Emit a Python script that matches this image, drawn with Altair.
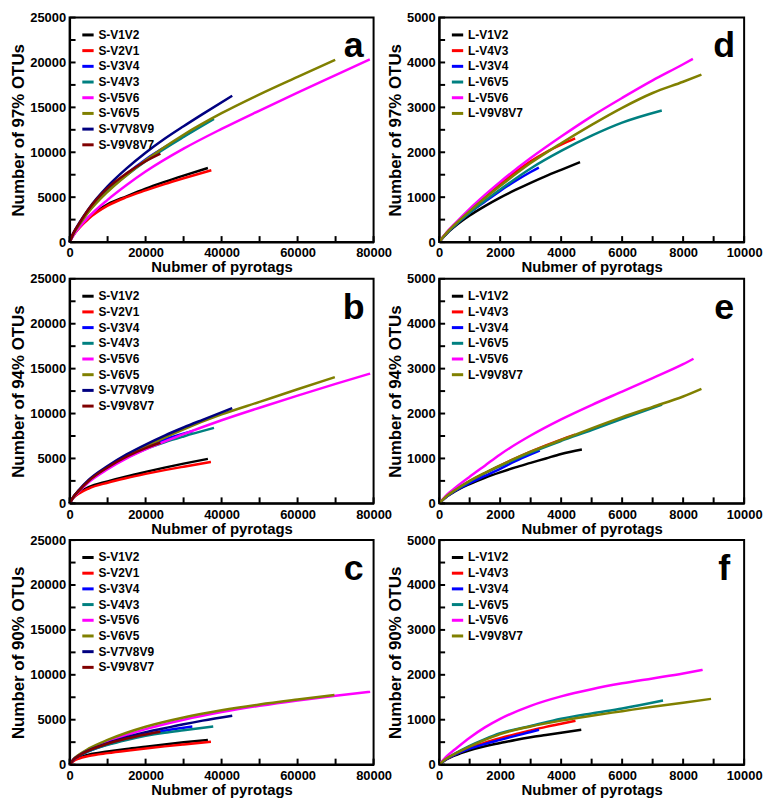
import altair as alt
import pandas as pd

FONT = "Liberation Sans"

S_SERIES = ["S-V1V2", "S-V2V1", "S-V3V4", "S-V4V3", "S-V5V6", "S-V6V5", "S-V7V8V9", "S-V9V8V7"]
S_COLORS = ["#000000", "#ff0000", "#0000ff", "#008080", "#ff00ff", "#808000", "#000080", "#800000"]
L_SERIES = ["L-V1V2", "L-V4V3", "L-V3V4", "L-V6V5", "L-V5V6", "L-V9V8V7"]
L_COLORS = ["#000000", "#ff0000", "#0000ff", "#008080", "#ff00ff", "#808000"]

S_X_LABELS = [0, 20000, 40000, 60000, 80000]
S_X_TICKS = [0, 10000, 20000, 30000, 40000, 50000, 60000, 70000, 80000]
S_Y_LABELS = [0, 5000, 10000, 15000, 20000, 25000]
S_Y_TICKS = [0, 2500, 5000, 7500, 10000, 12500, 15000, 17500, 20000, 22500, 25000]
L_X_LABELS = [0, 2000, 4000, 6000, 8000, 10000]
L_X_TICKS = [0, 1000, 2000, 3000, 4000, 5000, 6000, 7000, 8000, 9000, 10000]
L_Y_LABELS = [0, 1000, 2000, 3000, 4000, 5000]
L_Y_TICKS = [0, 500, 1000, 1500, 2000, 2500, 3000, 3500, 4000, 4500, 5000]

LETTERS = ["a", "b", "c", "d", "e", "f"]
Y_TITLES = ["Number of 97% OTUs", "Number of 94% OTUs", "Number of 90% OTUs"]
X_TITLE = "Nubmer of pyrotags"

# panel a: 97% OTUs, short reads
PANEL_A = {
    "S-V1V2": [(0, 0), (1000, 800), (2500, 1650), (5000, 2750), (10000, 4200), (15000, 5100), (20000, 5950), (25000, 6700), (30000, 7400), (36400, 8250)],
    "S-V2V1": [(0, 0), (1000, 750), (2500, 1550), (5000, 2600), (10000, 4050), (15000, 5000), (20000, 5750), (25000, 6450), (30000, 7100), (37300, 8000)],
    "S-V3V4": [(0, 0), (1000, 950), (2500, 2000), (5000, 3500), (10000, 5800), (15000, 7600), (20000, 9200), (25000, 10550), (32500, 12400)],
    "S-V4V3": [(0, 0), (1000, 950), (2500, 1950), (5000, 3450), (10000, 5700), (15000, 7450), (20000, 9000), (25000, 10400), (30000, 11700), (38000, 13700)],
    "S-V5V6": [(0, 0), (1000, 750), (2500, 1600), (5000, 2800), (10000, 4700), (15000, 6350), (20000, 7850), (30000, 10400), (40000, 12600), (50000, 14650), (60000, 16650), (70000, 18600), (79000, 20350)],
    "S-V6V5": [(0, 0), (1000, 900), (2500, 1900), (5000, 3350), (10000, 5600), (15000, 7450), (20000, 9100), (30000, 11950), (40000, 14350), (50000, 16450), (60000, 18400), (69900, 20300)],
    "S-V7V8V9": [(0, 0), (1000, 1000), (2500, 2100), (5000, 3700), (10000, 6200), (15000, 8200), (20000, 9950), (25000, 11500), (30000, 12900), (35000, 14250), (42800, 16300)],
    "S-V9V8V7": [(0, 0), (1000, 1000), (2500, 2050), (5000, 3650), (10000, 6000), (15000, 7650), (20000, 9000), (23900, 9850)],
}

# panel b: 94% OTUs, short reads
PANEL_B = {
    "S-V1V2": [(0, 0), (1000, 650), (2500, 1200), (5000, 1800), (10000, 2450), (15000, 3000), (20000, 3500), (25000, 3980), (30000, 4420), (36400, 4950)],
    "S-V2V1": [(0, 0), (1000, 600), (2500, 1100), (5000, 1650), (10000, 2300), (15000, 2820), (20000, 3280), (25000, 3700), (30000, 4080), (37200, 4600)],
    "S-V3V4": [(0, 0), (1000, 700), (2500, 1450), (5000, 2500), (10000, 4000), (15000, 5250), (20000, 6300), (25000, 7100), (32500, 8050)],
    "S-V4V3": [(0, 0), (1000, 680), (2500, 1400), (5000, 2450), (10000, 3900), (15000, 5100), (20000, 6050), (25000, 6800), (30000, 7450), (38000, 8400)],
    "S-V5V6": [(0, 0), (1000, 650), (2500, 1350), (5000, 2350), (10000, 3800), (15000, 5000), (20000, 6000), (30000, 7700), (40000, 9250), (50000, 10650), (60000, 12000), (70000, 13300), (79100, 14450)],
    "S-V6V5": [(0, 0), (1000, 700), (2500, 1450), (5000, 2500), (10000, 4050), (15000, 5300), (20000, 6350), (30000, 8250), (40000, 9900), (50000, 11300), (60000, 12700), (69800, 14050)],
    "S-V7V8V9": [(0, 0), (1000, 720), (2500, 1500), (5000, 2600), (10000, 4150), (15000, 5450), (20000, 6550), (25000, 7550), (30000, 8450), (35000, 9300), (42800, 10600)],
    "S-V9V8V7": [(0, 0), (1000, 700), (2500, 1450), (5000, 2500), (10000, 4000), (15000, 5200), (20000, 6150), (23900, 6750)],
}

# panel c: 90% OTUs, short reads
PANEL_C = {
    "S-V1V2": [(0, 0), (1000, 450), (2500, 800), (5000, 1100), (10000, 1450), (15000, 1750), (20000, 2000), (25000, 2250), (30000, 2480), (36400, 2750)],
    "S-V2V1": [(0, 0), (1000, 380), (2500, 680), (5000, 950), (10000, 1280), (15000, 1550), (20000, 1790), (25000, 2030), (30000, 2250), (37200, 2550)],
    "S-V3V4": [(0, 0), (1000, 550), (2500, 1000), (5000, 1500), (10000, 2250), (15000, 2850), (20000, 3350), (25000, 3780), (32300, 4250)],
    "S-V4V3": [(0, 0), (1000, 530), (2500, 980), (5000, 1480), (10000, 2200), (15000, 2750), (20000, 3200), (25000, 3550), (30000, 3830), (37800, 4250)],
    "S-V5V6": [(0, 0), (1000, 560), (2500, 1050), (5000, 1650), (10000, 2550), (15000, 3300), (20000, 3950), (30000, 5000), (40000, 5850), (50000, 6550), (60000, 7150), (70000, 7680), (79100, 8100)],
    "S-V6V5": [(0, 0), (1000, 600), (2500, 1120), (5000, 1780), (10000, 2750), (15000, 3550), (20000, 4220), (30000, 5250), (40000, 6050), (50000, 6700), (60000, 7250), (69700, 7750)],
    "S-V7V8V9": [(0, 0), (1000, 560), (2500, 1020), (5000, 1580), (10000, 2400), (15000, 3050), (20000, 3600), (25000, 4050), (30000, 4500), (35000, 4900), (42800, 5450)],
    "S-V9V8V7": [(0, 0), (1000, 540), (2500, 1000), (5000, 1550), (10000, 2330), (15000, 2900), (20000, 3350), (23900, 3650)],
}

# panel d: 97% OTUs, long reads
PANEL_D = {
    "L-V1V2": [(0, 0), (250, 190), (500, 340), (1000, 590), (1500, 800), (2000, 990), (2500, 1160), (3000, 1320), (3500, 1470), (4000, 1610), (4620, 1780)],
    "L-V4V3": [(0, 0), (250, 210), (500, 380), (1000, 700), (1500, 1000), (2000, 1290), (2500, 1560), (3000, 1800), (3500, 2000), (4000, 2170), (4460, 2310)],
    "L-V3V4": [(0, 0), (250, 200), (500, 360), (1000, 650), (1500, 900), (2000, 1140), (2500, 1360), (3000, 1560), (3270, 1660)],
    "L-V6V5": [(0, 0), (250, 200), (500, 360), (1000, 650), (1500, 920), (2000, 1170), (3000, 1640), (4000, 2030), (5000, 2370), (6000, 2660), (7300, 2930)],
    "L-V5V6": [(0, 0), (250, 220), (500, 400), (1000, 740), (1500, 1050), (2000, 1340), (3000, 1870), (4000, 2350), (5000, 2800), (6000, 3210), (7000, 3600), (8000, 3960), (8320, 4080)],
    "L-V9V8V7": [(0, 0), (250, 210), (500, 380), (1000, 690), (1500, 980), (2000, 1250), (3000, 1760), (4000, 2200), (5000, 2610), (6000, 2990), (7000, 3320), (8000, 3570), (8600, 3730)],
}

# panel e: 94% OTUs, long reads
PANEL_E = {
    "L-V1V2": [(0, 0), (250, 150), (500, 260), (1000, 430), (1500, 570), (2000, 690), (2500, 800), (3000, 900), (3500, 1000), (4000, 1100), (4680, 1200)],
    "L-V4V3": [(0, 0), (250, 160), (500, 280), (1000, 490), (1500, 670), (2000, 840), (2500, 1000), (3000, 1150), (3500, 1290), (4000, 1420), (4460, 1530)],
    "L-V3V4": [(0, 0), (250, 150), (500, 270), (1000, 450), (1500, 610), (2000, 770), (2500, 940), (3000, 1090), (3300, 1175)],
    "L-V6V5": [(0, 0), (250, 160), (500, 280), (1000, 490), (1500, 670), (2000, 830), (3000, 1130), (4000, 1390), (5000, 1630), (6000, 1880), (7310, 2200)],
    "L-V5V6": [(0, 0), (250, 190), (500, 330), (1000, 590), (1500, 840), (2000, 1090), (3000, 1510), (4000, 1870), (5000, 2190), (6000, 2490), (7000, 2790), (8000, 3100), (8340, 3220)],
    "L-V9V8V7": [(0, 0), (250, 165), (500, 285), (1000, 500), (1500, 680), (2000, 845), (3000, 1150), (4000, 1410), (5000, 1670), (6000, 1920), (7000, 2150), (8000, 2380), (8600, 2550)],
}

# panel f: 90% OTUs, long reads
PANEL_F = {
    "L-V1V2": [(0, 0), (250, 120), (500, 200), (1000, 320), (1500, 410), (2000, 480), (2500, 550), (3000, 610), (3500, 660), (4000, 710), (4660, 775)],
    "L-V4V3": [(0, 0), (250, 130), (500, 220), (1000, 370), (1500, 490), (2000, 590), (2500, 680), (3000, 760), (3500, 840), (4000, 910), (4470, 978)],
    "L-V3V4": [(0, 0), (250, 130), (500, 215), (1000, 355), (1500, 460), (2000, 550), (2500, 640), (3000, 725), (3275, 775)],
    "L-V6V5": [(0, 0), (250, 140), (500, 240), (1000, 420), (1500, 570), (2000, 700), (3000, 860), (4000, 1020), (5000, 1140), (6000, 1250), (7340, 1428)],
    "L-V5V6": [(0, 0), (250, 190), (500, 330), (1000, 600), (1500, 830), (2000, 1020), (3000, 1310), (4000, 1520), (5000, 1680), (6000, 1810), (7000, 1920), (8000, 2030), (8640, 2110)],
    "L-V9V8V7": [(0, 0), (250, 140), (500, 235), (1000, 400), (1500, 550), (2000, 680), (3000, 850), (4000, 980), (5000, 1090), (6000, 1190), (7000, 1290), (8000, 1380), (8915, 1464)],
}

W_LEFT, W_RIGHT, H = 306, 307, 226
TICK_LEN = 6


def panel(curves, series, colors, x_labels, x_ticks, y_labels, y_ticks, y_title, letter, width):
    rows = []
    for k, s in enumerate(series):
        for i, (x, y) in enumerate(curves[s]):
            rows.append({"series": s, "k": k, "i": i, "x": x, "y": y})
    df = pd.DataFrame(rows)
    xs = alt.Scale(domain=[x_labels[0], x_labels[-1]], nice=False, zero=True)
    ys = alt.Scale(domain=[y_labels[0], y_labels[-1]], nice=False, zero=True)
    xax = alt.Axis(values=x_labels, format="d", title=X_TITLE)
    yax = alt.Axis(values=y_labels, format="d", title=y_title)

    lines = alt.Chart(df).mark_line(strokeWidth=2.5, interpolate="monotone").encode(
        x=alt.X("x:Q", scale=xs, axis=xax),
        y=alt.Y("y:Q", scale=ys, axis=yax),
        color=alt.Color(
            "series:N",
            scale=alt.Scale(domain=series, range=colors),
            sort=series,
            legend=alt.Legend(
                title=None, orient="none", legendX=11, legendY=10,
                symbolType="stroke", symbolStrokeWidth=3, symbolSize=130,
                labelFontSize=12, labelFontWeight="bold", labelFont=FONT,
                rowPadding=1.8, padding=0, labelOffset=3, labelColor="black",
            ),
        ),
        order=alt.Order("i:Q"),
        detail="k:O",
    )

    xt = alt.Chart(pd.DataFrame({"x": x_ticks})).mark_rule(color="black", strokeWidth=2).encode(
        x=alt.X("x:Q", scale=xs, axis=xax),
        y=alt.value(H),
        y2=alt.value(H - TICK_LEN),
    )
    yt = alt.Chart(pd.DataFrame({"y": y_ticks})).mark_rule(color="black", strokeWidth=2).encode(
        y=alt.Y("y:Q", scale=ys, axis=yax),
        x=alt.value(0),
        x2=alt.value(TICK_LEN),
    )
    lab = alt.Chart(pd.DataFrame({"t": [letter]})).mark_text(
        font=FONT, fontSize=36, fontWeight="bold", align="center", baseline="middle", color="black"
    ).encode(text="t:N", x=alt.value(round(width * 0.935)), y=alt.value(29))

    return alt.layer(lines, xt, yt, lab).properties(width=width, height=H)


pa = panel(PANEL_A, S_SERIES, S_COLORS, S_X_LABELS, S_X_TICKS, S_Y_LABELS, S_Y_TICKS, Y_TITLES[0], LETTERS[0], W_LEFT)
pb = panel(PANEL_B, S_SERIES, S_COLORS, S_X_LABELS, S_X_TICKS, S_Y_LABELS, S_Y_TICKS, Y_TITLES[1], LETTERS[1], W_LEFT)
pc = panel(PANEL_C, S_SERIES, S_COLORS, S_X_LABELS, S_X_TICKS, S_Y_LABELS, S_Y_TICKS, Y_TITLES[2], LETTERS[2], W_LEFT)
pd_ = panel(PANEL_D, L_SERIES, L_COLORS, L_X_LABELS, L_X_TICKS, L_Y_LABELS, L_Y_TICKS, Y_TITLES[0], LETTERS[3], W_RIGHT)
pe = panel(PANEL_E, L_SERIES, L_COLORS, L_X_LABELS, L_X_TICKS, L_Y_LABELS, L_Y_TICKS, Y_TITLES[1], LETTERS[4], W_RIGHT)
pf = panel(PANEL_F, L_SERIES, L_COLORS, L_X_LABELS, L_X_TICKS, L_Y_LABELS, L_Y_TICKS, Y_TITLES[2], LETTERS[5], W_RIGHT)

chart = alt.concat(
    pa, pd_, pb, pe, pc, pf, columns=2, spacing={"row": 37, "column": 66}
).properties(
    bounds="flush",
    padding={"left": 0, "top": 0, "right": 0, "bottom": 0},
).resolve_scale(
    color="independent", x="independent", y="independent"
).resolve_legend(
    color="independent"
).configure_axis(
    labelFont=FONT, titleFont=FONT, labelFontWeight="bold", titleFontWeight="bold",
    labelFontSize=13, labelColor="black", titleColor="black",
    grid=False, ticks=False, domainColor="black", domainWidth=2,
    labelFlush=False, labelOverlap=False, labelBound=False,
).configure_axisX(
    labelPadding=5, titlePadding=0, titleFontSize=15,
).configure_axisY(
    labelPadding=4, titlePadding=2, titleFontSize=17,
).configure_view(
    stroke="black", strokeWidth=2,
).configure_legend(
    labelFont=FONT,
)

chart.save("out.html", embed_options={"renderer": "svg", "actions": False})
